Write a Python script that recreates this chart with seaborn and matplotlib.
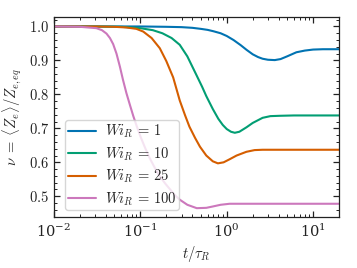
import numpy as np
import pandas as pd
import matplotlib
matplotlib.use("Agg")
import matplotlib.pyplot as plt
import seaborn as sns
from matplotlib.ticker import MultipleLocator, LogLocator, NullFormatter, FuncFormatter

# ---- data ----
t_wi1 = [0.01, 0.05, 0.1, 0.2, 0.3, 0.4, 0.5, 0.6, 0.7, 0.85, 1.0, 1.2, 1.45, 1.7, 2.0, 2.3, 2.6, 3.0, 3.6, 4.2, 5.0, 6.4, 8.0, 10.0, 13.0, 20.0]
nu_wi1 = [1.0, 1.0, 1.0, 0.999, 0.998, 0.996, 0.993, 0.990, 0.986, 0.980, 0.972, 0.960, 0.945, 0.931, 0.918, 0.910, 0.905, 0.902, 0.901, 0.904, 0.912, 0.924, 0.929, 0.932, 0.933, 0.933]

t_wi10 = [0.01, 0.03, 0.06, 0.1, 0.14, 0.18, 0.23, 0.286, 0.35, 0.45, 0.52, 0.58, 0.69, 0.8, 0.9, 1.0, 1.12, 1.24, 1.4, 1.69, 2.0, 2.6, 3.2, 4.1, 6.0, 10.0, 20.0]
nu_wi10 = [1.0, 1.0, 0.999, 0.995, 0.989, 0.980, 0.966, 0.946, 0.912, 0.855, 0.822, 0.795, 0.757, 0.728, 0.710, 0.698, 0.690, 0.687, 0.690, 0.703, 0.716, 0.731, 0.736, 0.737, 0.738, 0.738, 0.738]

t_wi25 = [0.01, 0.03, 0.05, 0.069, 0.09, 0.108, 0.135, 0.168, 0.2, 0.24, 0.286, 0.33, 0.37, 0.43, 0.49, 0.58, 0.69, 0.79, 0.92, 1.08, 1.3, 1.69, 2.1, 2.6, 3.5, 6.0, 20.0]
nu_wi25 = [1.0, 1.0, 0.999, 0.997, 0.993, 0.985, 0.966, 0.936, 0.898, 0.850, 0.782, 0.738, 0.705, 0.672, 0.646, 0.620, 0.603, 0.597, 0.600, 0.609, 0.620, 0.631, 0.636, 0.637, 0.637, 0.637, 0.637]

t_wi100 = [0.01, 0.02, 0.031, 0.036, 0.0406, 0.0445, 0.0485, 0.053, 0.058, 0.063, 0.069, 0.076, 0.083, 0.091, 0.1, 0.113, 0.128, 0.147, 0.168, 0.195, 0.22, 0.25, 0.286, 0.35, 0.45, 0.58, 0.69, 0.85, 1.08, 1.5, 3.0, 20.0]
nu_wi100 = [1.0, 0.999, 0.995, 0.989, 0.979, 0.966, 0.948, 0.920, 0.882, 0.843, 0.804, 0.768, 0.736, 0.706, 0.677, 0.644, 0.613, 0.584, 0.559, 0.537, 0.521, 0.504, 0.490, 0.475, 0.465, 0.466, 0.470, 0.475, 0.478, 0.478, 0.478, 0.478]

labels = [r"$Wi_R\,=\,1$", r"$Wi_R\,=\,10$", r"$Wi_R\,=\,25$", r"$Wi_R\,=\,100$"]
colors = ["#0173b2", "#029e73", "#d55e00", "#cc78bc"]

frames = []
for t, nu, lab in zip([t_wi1, t_wi10, t_wi25, t_wi100],
                      [nu_wi1, nu_wi10, nu_wi25, nu_wi100], labels):
    frames.append(pd.DataFrame({"t": t, "nu": nu, "series": lab}))
df = pd.concat(frames, ignore_index=True)

# ---- style ----
sns.set_style("ticks")
plt.rcParams["font.family"] = ["DejaVu Serif"]
plt.rcParams["mathtext.fontset"] = "cm"
plt.rcParams["xtick.direction"] = "in"
plt.rcParams["ytick.direction"] = "in"
plt.rcParams["xtick.top"] = True
plt.rcParams["ytick.right"] = True

fig = plt.figure(figsize=(3.57, 2.68), dpi=100)
ax = fig.add_axes([0.151, 0.189, 0.799, 0.749])

sns.lineplot(data=df, x="t", y="nu", hue="series", palette=colors,
             hue_order=labels, ax=ax, linewidth=1.5, sort=False, estimator=None)

ax.set_xscale("log")
ax.set_xlim(0.01, 20)
ax.set_ylim(0.438, 1.029)

ax.yaxis.set_major_locator(MultipleLocator(0.1))
ax.yaxis.set_minor_locator(MultipleLocator(0.02))
ax.yaxis.set_major_formatter(FuncFormatter(lambda v, p: r"$%.1f$" % v))
ax.xaxis.set_major_locator(LogLocator(base=10))
ax.xaxis.set_minor_locator(LogLocator(base=10, subs=np.arange(2, 10)))
ax.xaxis.set_minor_formatter(NullFormatter())

ax.tick_params(which="both", direction="in", top=True, right=True, colors="#222222", labelsize=10.5)
ax.tick_params(which="major", length=4, width=0.9)
ax.tick_params(which="minor", length=2, width=0.7)
for s in ax.spines.values():
    s.set_color("#222222")
    s.set_linewidth(0.9)

ax.set_xlabel(r"$t/\tau_R$", fontsize=10.5, labelpad=3)
ax.set_ylabel(r"$\nu\;=\;\langle Z_e \rangle / Z_{e,eq}$", fontsize=10.5, labelpad=4)

leg = ax.legend(loc="lower left", fontsize=10.5, handlelength=1.95, frameon=True,
                borderpad=0.15, labelspacing=0.35, handletextpad=0.6,
                bbox_to_anchor=(0.015, 0.0))
leg.get_frame().set_edgecolor("#cccccc")

fig.savefig("out.png", dpi=100)
